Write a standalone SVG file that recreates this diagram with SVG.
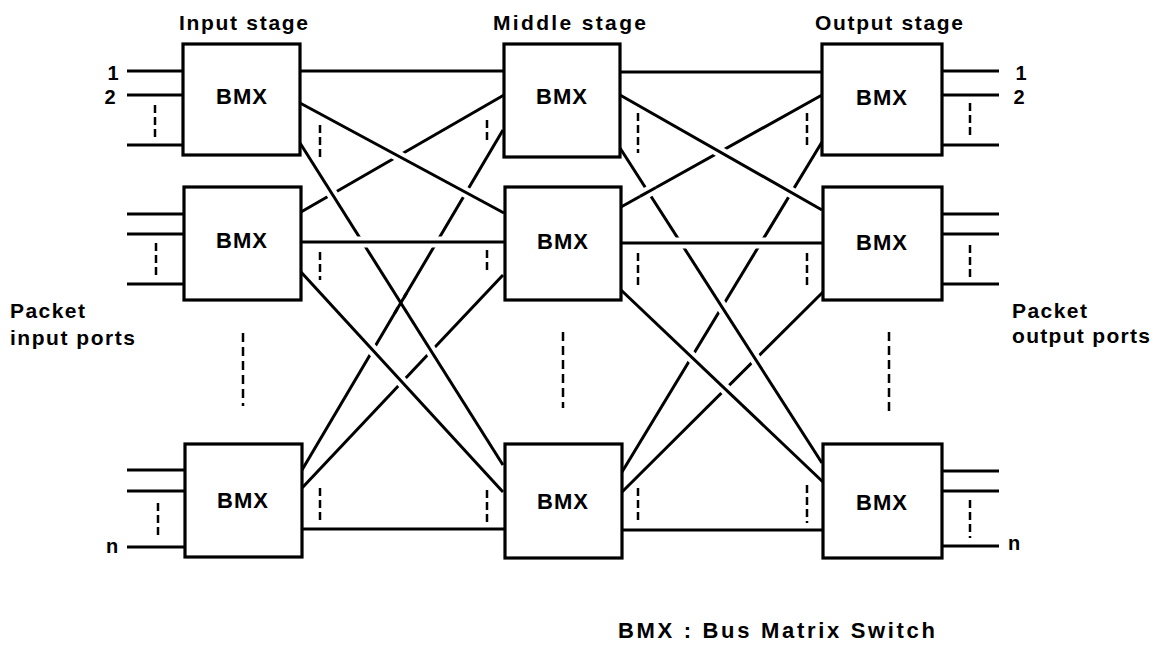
<svg xmlns="http://www.w3.org/2000/svg" width="1157" height="646" viewBox="0 0 1157 646">
<style>
.ln{stroke:#000;stroke-width:3;fill:none;stroke-linecap:butt}
.halo{stroke:#fff;stroke-width:11;fill:none;stroke-linecap:butt}
.tick{stroke:#000;stroke-width:2.5;fill:none;stroke-dasharray:8 4}
.col{stroke:#000;stroke-width:2.5;fill:none;stroke-dasharray:9 5}
.box{fill:#fff;stroke:#000;stroke-width:3.2}
.t{font-family:"Liberation Sans",Arial,sans-serif;font-weight:bold;fill:#000}
.bmx{font-size:22px;text-anchor:middle;letter-spacing:1px}
.ttl{font-size:21px}
.num{font-size:20px;text-anchor:middle}
</style>
<rect width="1157" height="646" fill="#fff"/>
<g id="connectors">
  <!-- up-right lines (under) -->
  <line class="ln" x1="301" y1="212" x2="504" y2="95"/>
  <line class="ln" x1="302" y1="470" x2="503" y2="130"/>
  <line class="ln" x1="302" y1="488" x2="503" y2="275"/>
  <line class="ln" x1="621" y1="207" x2="822" y2="95"/>
  <line class="ln" x1="622" y1="472" x2="822" y2="142"/>
  <line class="ln" x1="622" y1="492" x2="823" y2="292"/>
  <!-- down-right lines -->
  <line class="halo" x1="300" y1="103" x2="504" y2="213"/>
  <line class="ln" x1="300" y1="103" x2="504" y2="213"/>
  <line class="halo" x1="300" y1="143" x2="503" y2="465"/>
  <line class="ln" x1="300" y1="143" x2="503" y2="465"/>
  <line class="halo" x1="301" y1="272" x2="503" y2="492"/>
  <line class="ln" x1="301" y1="272" x2="503" y2="492"/>
  <line class="halo" x1="620" y1="95" x2="822" y2="210"/>
  <line class="ln" x1="620" y1="95" x2="822" y2="210"/>
  <line class="halo" x1="620" y1="148" x2="822" y2="463"/>
  <line class="ln" x1="620" y1="148" x2="822" y2="463"/>
  <line class="halo" x1="621" y1="290" x2="823" y2="482"/>
  <line class="ln" x1="621" y1="290" x2="823" y2="482"/>
  <!-- crossing restorations -->
  <line class="ln" x1="394.5" y1="313.6" x2="406.5" y2="293.2"/>
  <line class="halo" x1="640" y1="196.4" x2="656" y2="187.5"/>
  <line class="ln" x1="640" y1="196.4" x2="656" y2="187.5"/>
  <!-- horizontal lines -->
  <line class="halo" x1="300" y1="71" x2="504" y2="71"/>
  <line class="ln" x1="300" y1="71" x2="504" y2="71"/>
  <line class="halo" x1="301" y1="242" x2="505" y2="242"/>
  <line class="ln" x1="301" y1="242" x2="505" y2="242"/>
  <line class="halo" x1="302" y1="529" x2="505" y2="529"/>
  <line class="ln" x1="302" y1="529" x2="505" y2="529"/>
  <line class="halo" x1="620" y1="72" x2="822" y2="72"/>
  <line class="ln" x1="620" y1="72" x2="822" y2="72"/>
  <line class="halo" x1="621" y1="243" x2="823" y2="243"/>
  <line class="ln" x1="621" y1="243" x2="823" y2="243"/>
  <line class="halo" x1="622" y1="530" x2="823" y2="530"/>
  <line class="ln" x1="622" y1="530" x2="823" y2="530"/>
  <!-- input port stubs -->
  <line class="ln" x1="127" y1="71" x2="183" y2="71"/>
  <line class="ln" x1="127" y1="95" x2="183" y2="95"/>
  <line class="ln" x1="127" y1="145" x2="183" y2="145"/>
  <line class="ln" x1="127" y1="214" x2="184" y2="214"/>
  <line class="ln" x1="127" y1="234" x2="184" y2="234"/>
  <line class="ln" x1="127" y1="284" x2="184" y2="284"/>
  <line class="ln" x1="127" y1="470" x2="185" y2="470"/>
  <line class="ln" x1="127" y1="491" x2="185" y2="491"/>
  <line class="ln" x1="127" y1="547" x2="185" y2="547"/>
  <!-- output port stubs -->
  <line class="ln" x1="942" y1="71" x2="999" y2="71"/>
  <line class="ln" x1="942" y1="95" x2="999" y2="95"/>
  <line class="ln" x1="942" y1="145" x2="999" y2="145"/>
  <line class="ln" x1="942" y1="214" x2="999" y2="214"/>
  <line class="ln" x1="942" y1="234" x2="999" y2="234"/>
  <line class="ln" x1="942" y1="284" x2="999" y2="284"/>
  <line class="ln" x1="942" y1="471" x2="999" y2="471"/>
  <line class="ln" x1="942" y1="491" x2="999" y2="491"/>
  <line class="ln" x1="942" y1="546" x2="999" y2="546"/>
  <!-- ellipsis ticks -->
  <line class="tick" x1="155" y1="105" x2="155" y2="137"/>
  <line class="tick" x1="156" y1="243" x2="156" y2="276"/>
  <line class="tick" x1="158" y1="503" x2="158" y2="538"/>
  <line class="tick" x1="320" y1="125" x2="320" y2="158"/>
  <line class="tick" x1="320" y1="252" x2="320" y2="280"/>
  <line class="tick" x1="320" y1="488" x2="320" y2="522"/>
  <line class="tick" x1="487" y1="120" x2="487" y2="144"/>
  <line class="tick" x1="487" y1="250" x2="487" y2="274"/>
  <line class="tick" x1="487" y1="490" x2="487" y2="524"/>
  <line class="tick" x1="638" y1="113" x2="638" y2="153"/>
  <line class="tick" x1="638" y1="253" x2="638" y2="287"/>
  <line class="tick" x1="638" y1="488" x2="638" y2="522"/>
  <line class="tick" x1="807" y1="113" x2="807" y2="148"/>
  <line class="tick" x1="807" y1="253" x2="807" y2="287"/>
  <line class="tick" x1="807" y1="485" x2="807" y2="523"/>
  <line class="tick" x1="970" y1="103" x2="970" y2="136"/>
  <line class="tick" x1="970" y1="245" x2="970" y2="278"/>
  <line class="tick" x1="970" y1="500" x2="970" y2="538"/>
  <!-- column ellipsis -->
  <line class="col" x1="243" y1="333" x2="243" y2="406"/>
  <line class="col" x1="563" y1="332" x2="563" y2="408"/>
  <line class="col" x1="889" y1="332" x2="889" y2="412"/>
</g>
<g id="in1"><rect class="box" x="183" y="44" width="117" height="111"/><text class="t bmx" x="242" y="104">BMX</text></g>
<g id="in2"><rect class="box" x="184" y="187" width="117" height="113"/><text class="t bmx" x="242" y="248">BMX</text></g>
<g id="in3"><rect class="box" x="185" y="444" width="117" height="113"/><text class="t bmx" x="243" y="508">BMX</text></g>
<g id="mid1"><rect class="box" x="504" y="44" width="116" height="113"/><text class="t bmx" x="562" y="104">BMX</text></g>
<g id="mid2"><rect class="box" x="505" y="187" width="116" height="113"/><text class="t bmx" x="563" y="249">BMX</text></g>
<g id="mid3"><rect class="box" x="505" y="444" width="117" height="114"/><text class="t bmx" x="563" y="509">BMX</text></g>
<g id="out1"><rect class="box" x="822" y="44" width="120" height="111"/><text class="t bmx" x="882" y="105">BMX</text></g>
<g id="out2"><rect class="box" x="823" y="187" width="119" height="113"/><text class="t bmx" x="882" y="250">BMX</text></g>
<g id="out3"><rect class="box" x="823" y="444" width="119" height="114"/><text class="t bmx" x="882" y="510">BMX</text></g>
<g id="labels">
  <text class="t ttl" x="179" y="30" textLength="129" lengthAdjust="spacing">Input stage</text>
  <text class="t ttl" x="493" y="30" textLength="153" lengthAdjust="spacing">Middle stage</text>
  <text class="t ttl" x="815" y="30" textLength="148" lengthAdjust="spacing">Output stage</text>
  <text class="t ttl" x="10" y="318" textLength="75" lengthAdjust="spacing">Packet</text>
  <text class="t ttl" x="10" y="345" textLength="125" lengthAdjust="spacing">input ports</text>
  <text class="t ttl" x="1012" y="318" textLength="75" lengthAdjust="spacing">Packet</text>
  <text class="t ttl" x="1012" y="343" textLength="138" lengthAdjust="spacing">output ports</text>
  <text class="t num" x="113" y="80">1</text>
  <text class="t num" x="110" y="104">2</text>
  <text class="t num" x="112" y="553">n</text>
  <text class="t num" x="1021" y="80">1</text>
  <text class="t num" x="1019" y="104">2</text>
  <text class="t num" x="1014" y="550">n</text>
  <text class="t" x="618" y="638" font-size="22" textLength="317" lengthAdjust="spacing">BMX : Bus Matrix Switch</text>
</g>
</svg>
